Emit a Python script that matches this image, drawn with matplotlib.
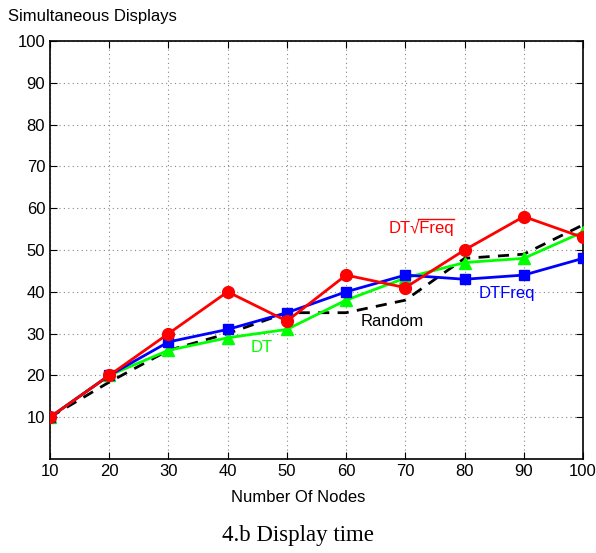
import matplotlib
matplotlib.use("Agg")
import matplotlib.pyplot as plt
from matplotlib.lines import Line2D

plt.rcParams["font.family"] = ["Liberation Sans", "DejaVu Sans"]

nodes = [10, 20, 30, 40, 50, 60, 70, 80, 90, 100]
dt_sqrt_freq = [10, 20, 30, 40, 33, 44, 41, 50, 58, 53]
dt_freq = [10, 20, 28, 31, 35, 40, 44, 43, 44, 48]
dt = [10, 20, 26, 29, 31, 38, 43.3, 47, 48, 54.3]
random_ = [10, 18.4, 26, 30, 35, 35, 38, 48, 49, 56]

fig = plt.figure(figsize=(5.96, 5.53), dpi=100)
ax = fig.add_axes([50 / 596, 1 - 459 / 553, 533 / 596, 418 / 553])

ax.plot(nodes, random_, color="black", linestyle="--", linewidth=2, dashes=(4, 3), zorder=2)
ax.plot(nodes, dt, color="#00ff00", linewidth=2, marker="^", markersize=9, zorder=3)
ax.plot(nodes, dt_freq, color="blue", linewidth=2, marker="s", markersize=6.5, zorder=4)
ax.plot(nodes, dt_sqrt_freq, color="red", linewidth=2, marker="o", markersize=8.5, zorder=5)

fs = 12
t_full = ax.text(67.1, 55.3, "DT\u221aFreq", color="red", fontsize=fs, va="center")
t_head = ax.text(67.1, 55.3, "DT\u221a", color="red", fontsize=fs, va="center", alpha=0)
ax.text(82.3, 39.5, "DTFreq", color="blue", fontsize=fs, va="center")
ax.text(62.5, 32.8, "Random", color="black", fontsize=fs, va="center")
ax.text(43.8, 26.6, "DT", color="#00ff00", fontsize=fs, va="center")

ax.set_xlim(10, 100)
ax.set_ylim(0, 100)
ax.set_xticks(range(10, 101, 10))
ax.set_yticks(range(10, 101, 10))
ax.tick_params(direction="in", labelsize=12, top=True, right=True, length=5)
ax.grid(True, linestyle=(0, (1, 3)), color="#888888", linewidth=0.8)
for s in ax.spines.values():
    s.set_linewidth(1.2)

fig.text(8 / 596, 1 - 17 / 553, "Simultaneous Displays", fontsize=12, va="center", ha="left")
fig.text(0.5, 1 - 497 / 553, "Number Of Nodes", fontsize=12, va="center", ha="center")
fig.text(0.5, 1 - 535 / 553, "4.b Display time", fontsize=16.5, va="center", ha="center",
         family="Liberation Serif")

# overline for the square root
fig.canvas.draw()
r = fig.canvas.get_renderer()
bb_full = t_full.get_window_extent(r)
bb_head = t_head.get_window_extent(r)
x0 = (bb_head.x1 - 1) / fig.bbox.width
x1 = bb_full.x1 / fig.bbox.width
y = (bb_full.y1 + 1) / fig.bbox.height
fig.add_artist(Line2D([x0, x1], [y, y], color="red", linewidth=1))

fig.savefig("out.png")
